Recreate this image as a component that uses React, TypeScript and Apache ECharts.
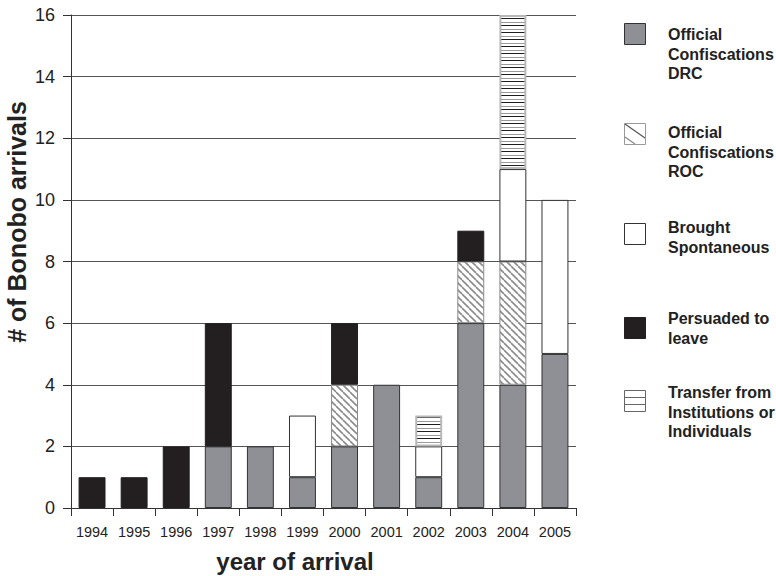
import React, { useEffect, useRef } from "react";
import * as echarts from "echarts";

const years = ["1994", "1995", "1996", "1997", "1998", "1999", "2000", "2001", "2002", "2003", "2004", "2005"];
const drc = [0, 0, 0, 2, 2, 1, 2, 4, 1, 6, 4, 5];
const roc = [0, 0, 0, 0, 0, 0, 2, 0, 0, 2, 4, 0];
const brought = [0, 0, 0, 0, 0, 2, 0, 0, 1, 0, 3, 5];
const persuaded = [1, 1, 2, 4, 0, 0, 2, 0, 0, 1, 0, 0];
const transfer = [0, 0, 0, 0, 0, 0, 0, 0, 1, 0, 5, 0];
const yTicks = [0, 2, 4, 6, 8, 10, 12, 14, 16];

const FONT = "'Liberation Sans', Arial, sans-serif";

function makeDiag() {
  const s = 7;
  const c = document.createElement("canvas");
  c.width = s;
  c.height = s;
  const g = c.getContext("2d")!;
  g.fillStyle = "#ffffff";
  g.fillRect(0, 0, s, s);
  g.strokeStyle = "#8a8a8a";
  g.lineWidth = 1.6;
  for (const o of [-s, 0, s]) {
    g.beginPath();
    g.moveTo(o, 0);
    g.lineTo(o + s, s);
    g.stroke();
  }
  return c;
}

function makeHoriz() {
  const c = document.createElement("canvas");
  c.width = 4;
  c.height = 7;
  const g = c.getContext("2d")!;
  g.fillStyle = "#ffffff";
  g.fillRect(0, 0, 4, 7);
  g.fillStyle = "#9a9a9a";
  g.fillRect(0, 1, 4, 1);
  g.fillStyle = "#1e1e1e";
  g.fillRect(0, 4, 4, 1);
  return c;
}

const nz = (arr: number[]) => arr.map((v) => (v === 0 ? null : v));

export default function App() {
  const ref = useRef<HTMLDivElement>(null);
  useEffect(() => {
    if (!ref.current) return;
    const chart = echarts.init(ref.current, null, { renderer: "svg" });
    const diag = makeDiag();
    const horiz = makeHoriz();
    const diagFill: any = { image: diag, repeat: "repeat", imageWidth: 7, imageHeight: 7 };
    const horizFill: any = { image: horiz, repeat: "repeat", imageWidth: 4, imageHeight: 7 };

    const barW = "64%";
    const legendX = 624;
    const textX = 668;
    const legendText = (y: number, text: string) => ({
      type: "text",
      x: textX,
      y,
      style: { text, font: `bold 16px ${FONT}`, fill: "#222", lineHeight: 19.5, verticalAlign: "top" },
    });

    const option: any = {
      animation: false,
      backgroundColor: "#ffffff",
      grid: { left: 71, right: 200, top: 15, bottom: 68, containLabel: false },
      xAxis: {
        type: "category",
        data: years,
        axisLine: { lineStyle: { color: "#333", width: 1 } },
        axisTick: { show: true, length: 8, alignWithLabel: false, lineStyle: { color: "#333" } },
        axisLabel: { color: "#222", fontSize: 14.5, fontFamily: FONT, margin: 16, interval: 0 },
      },
      yAxis: {
        type: "value",
        min: 0,
        max: 16,
        interval: 2,
        axisLine: { show: true, lineStyle: { color: "#333", width: 1 } },
        axisTick: { show: true, length: 8, lineStyle: { color: "#333" } },
        axisLabel: {
          color: "#222",
          fontSize: 18,
          fontFamily: FONT,
          margin: 16,
          formatter: (v: number) => (yTicks.includes(v) ? String(v) : ""),
        },
        splitLine: { show: true, lineStyle: { color: "#555", width: 1 } },
      },
      series: [
        {
          name: "Official Confiscations DRC",
          type: "bar",
          stack: "a",
          barWidth: barW,
          data: nz(drc),
          itemStyle: { color: "#8f9095", borderColor: "#333", borderWidth: 1 },
        },
        {
          name: "Official Confiscations ROC",
          type: "bar",
          stack: "a",
          barWidth: barW,
          data: nz(roc),
          itemStyle: { color: diagFill, borderColor: "#8a8a8a", borderWidth: 1 },
        },
        {
          name: "Brought Spontaneous",
          type: "bar",
          stack: "a",
          barWidth: barW,
          data: nz(brought),
          itemStyle: { color: "#ffffff", borderColor: "#333", borderWidth: 1 },
        },
        {
          name: "Persuaded to leave",
          type: "bar",
          stack: "a",
          barWidth: barW,
          data: nz(persuaded),
          itemStyle: { color: "#231f20", borderColor: "#231f20", borderWidth: 1 },
        },
        {
          name: "Transfer from Institutions or Individuals",
          type: "bar",
          stack: "a",
          barWidth: barW,
          data: nz(transfer),
          itemStyle: { color: horizFill, borderColor: "#b8b8b8", borderWidth: 2 },
        },
      ],
      graphic: [
        {
          type: "text",
          x: 17,
          y: 222,
          rotation: Math.PI / 2,
          style: { text: "# of Bonobo arrivals", font: `bold 25px ${FONT}`, fill: "#222", align: "center", verticalAlign: "middle" },
        },
        {
          type: "text",
          x: 295,
          y: 561,
          style: { text: "year of arrival", font: `bold 24px ${FONT}`, fill: "#222", align: "center", verticalAlign: "middle" },
        },
        // legend icons
        { type: "rect", shape: { x: legendX + 0.5, y: 23.5, width: 21, height: 21 }, style: { fill: "#8f9095", stroke: "#333", lineWidth: 1 } },
        { type: "rect", shape: { x: legendX + 0.5, y: 123.5, width: 21, height: 21 }, style: { fill: "#fff", stroke: "#9a9a9a", lineWidth: 1 } },
        { type: "line", shape: { x1: legendX + 1, y1: 124, x2: legendX + 21, y2: 138 }, style: { stroke: "#555", lineWidth: 1.2 } },
        { type: "line", shape: { x1: legendX + 1, y1: 137, x2: legendX + 11, y2: 144 }, style: { stroke: "#888", lineWidth: 1.2 } },
        { type: "rect", shape: { x: legendX + 0.5, y: 223.5, width: 21, height: 21 }, style: { fill: "#fff", stroke: "#333", lineWidth: 1 } },
        { type: "rect", shape: { x: legendX + 0.5, y: 317.5, width: 21, height: 21 }, style: { fill: "#231f20", stroke: "#231f20", lineWidth: 1 } },
        { type: "rect", shape: { x: legendX + 0.5, y: 390.5, width: 21, height: 21 }, style: { fill: "#fff", stroke: "#666", lineWidth: 1 } },
        { type: "line", shape: { x1: legendX + 1, y1: 397.5, x2: legendX + 22, y2: 397.5 }, style: { stroke: "#666", lineWidth: 1 } },
        { type: "line", shape: { x1: legendX + 1, y1: 404.5, x2: legendX + 22, y2: 404.5 }, style: { stroke: "#666", lineWidth: 1 } },
        legendText(25, "Official\nConfiscations\nDRC"),
        legendText(123, "Official\nConfiscations\nROC"),
        legendText(218, "Brought\nSpontaneous"),
        legendText(309, "Persuaded to\nleave"),
        legendText(383, "Transfer from\nInstitutions or\nIndividuals"),
      ],
    };
    chart.setOption(option);
    return () => chart.dispose();
  }, []);
  return <div ref={ref} style={{ width: 776, height: 576, position: "absolute", left: 0, top: 0 }} />;
}
